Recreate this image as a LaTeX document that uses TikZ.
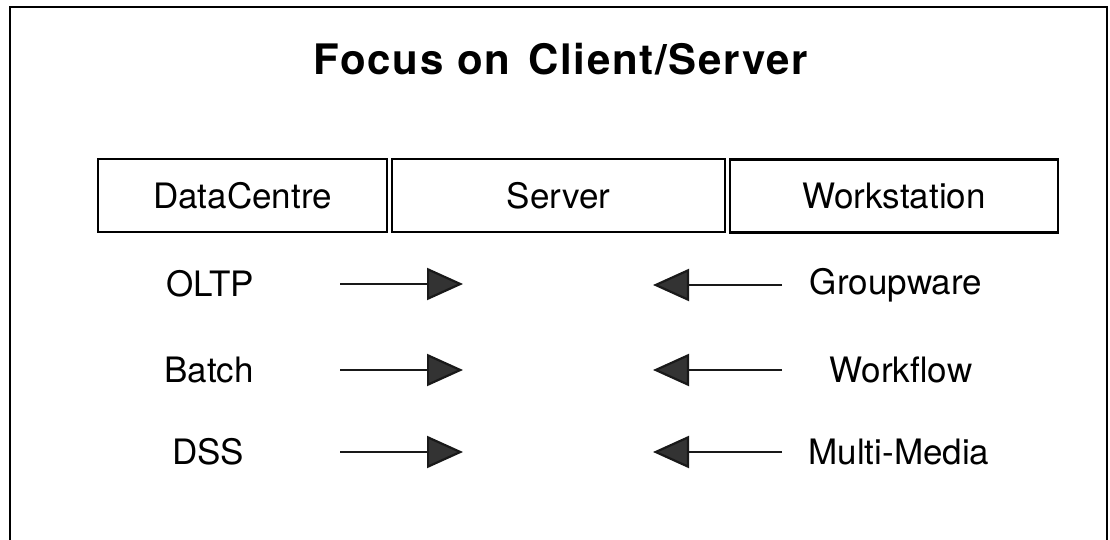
\documentclass[tikz,border=0pt]{standalone}
\usepackage{fontspec}
\setmainfont{TeX Gyre Heros}
\usepackage{tikz}
\usetikzlibrary{arrows.meta}

\begin{document}
\begin{tikzpicture}[x=0.5pt, y=-0.5pt,
  tier/.style={draw, rectangle, line width=1.3pt, minimum width=#1, minimum height=36.5pt, inner sep=0pt, font=\fontsize{17.5}{20}\selectfont},
  job/.style={inner sep=0pt, font=\fontsize{17.5}{20}\selectfont},
  flow/.style={line width=1.1pt, draw=black!90, -{Triangle[length=18pt, width=16pt, fill=black!80]}}]
\useasboundingbox (0,0) rectangle (1110,540);
\draw[line width=0.8pt] (10,548) -- (10,7) -- (1107,7) -- (1107,548);

\node[font=\bfseries\fontsize{21}{24}\selectfont\addfontfeature{LetterSpace=4}] (title) at (561,59) {Focus\hspace{7pt}on\hspace{9pt}Client/Server};

% the three tiers
\node[tier=144.5pt] (dc) at (242.5,195.5) {DataCentre};
\node[tier=166.5pt] (srv) at (558.5,195.5) {Server};
\node[tier=164pt] (ws) at (894,196) {\raisebox{-2pt}{Workstation}};

% where the arrows start and end
\coordinate (tail-l) at (340,0);
\coordinate (tip-l) at (463,0);
\coordinate (tail-r) at (782,0);
\coordinate (tip-r) at (653,0);

\node[job] (oltp) at (210,284) {OLTP};
\node[job] (batch) at (209,370) {Batch};
\node[job] (dss) at (208,452) {DSS};
\node[job] (group) at (896,285) {Groupware};
\node[job] (wflow) at (901,370) {Workflow};
\node[job] (mmedia) at (899,452) {Multi-Media};

\draw[flow] (oltp -| tail-l) -- (oltp -| tip-l);
\draw[flow] (batch -| tail-l) -- (batch -| tip-l);
\draw[flow] (dss -| tail-l) -- (dss -| tip-l);
\draw[flow] (group -| tail-r) -- (group -| tip-r);
\draw[flow] (wflow -| tail-r) -- (wflow -| tip-r);
\draw[flow] (mmedia -| tail-r) -- (mmedia -| tip-r);
\end{tikzpicture}
\end{document}
